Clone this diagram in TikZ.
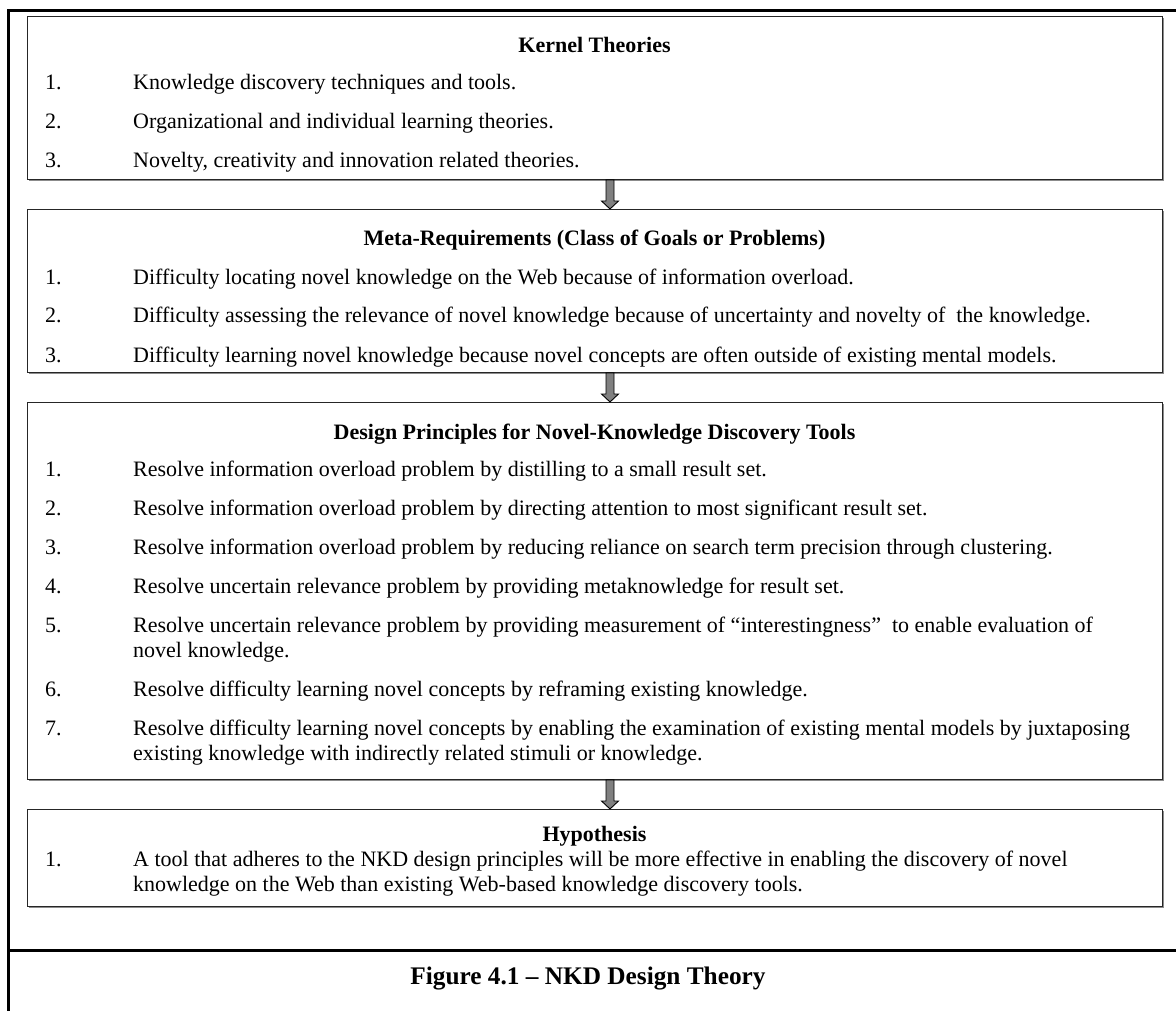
\documentclass[tikz,border=0pt]{standalone}
\usepackage{fontspec}
\setmainfont{Liberation Serif}
\usetikzlibrary{calc,shadows}

\newcommand\bodysize{\fontsize{22}{25}\selectfont}
\newcommand\capsize{\fontsize{25.3}{30}\selectfont}

% thick grey down arrow between two boxes, at x of coordinate (ax)
\newcommand\blockarrow[2]{%
  \path (#1.south -| ax) coordinate (bas) (#2.north -| ax) coordinate (bae);
  \draw[arrowbody] ($(bas)+(-4,0)$) -- ($(bae)+(-4,-8)$) -- ($(bae)+(-8.5,-8)$)
    -- (bae) -- ($(bae)+(8.5,-8)$) -- ($(bae)+(4,-8)$) -- ($(bas)+(4,0)$) -- cycle;
}

\begin{document}
\begin{tikzpicture}[x=1pt,y=-1pt,
  frame/.style={line width=3pt,black},
  panel/.style={draw=black!85,line width=0.9pt,fill=white,inner sep=0pt,
    minimum width=1135pt,anchor=north west,
    drop shadow={shadow xshift=2pt,shadow yshift=-2pt,fill=black!45,opacity=1}},
  arrowbody/.style={draw=black,line width=0.9pt,fill=black!50},
  ttl/.style={font=\bodysize\bfseries,anchor=base,inner sep=0pt},
  num/.style={font=\bodysize,anchor=base west,inner sep=0pt},
  itm/.style={font=\bodysize,anchor=base west,inner sep=0pt},
  figcaption/.style={font=\capsize\bfseries,anchor=base,inner sep=0pt}]
\useasboundingbox (0,0) rectangle (1176,1011);
\clip (0,0) rectangle (1176,1011);

% outer frame
\draw[frame] (1190,11) -- (8,11) -- (8,1030);
\draw[frame] (8,950) -- (1190,950);

% panels
\node[panel,minimum height=163pt] (kt) at (27,16) {};
\node[panel,minimum height=163pt] (mr) at (27,209) {};
\node[panel,minimum height=377pt] (dp) at (27,402) {};
\node[panel,minimum height=97pt]  (hy) at (27,809) {};

% arrows
\coordinate (ax) at (610,0);
\blockarrow{kt}{mr}
\blockarrow{mr}{dp}
\blockarrow{dp}{hy}

% Kernel theories
\node[ttl] (kt0) at (594.5,53) {Kernel Theories};
\node[num] (ktn1) at (45,90) {1.};
\node[itm] (kti1) at (133,90) {Knowledge discovery techniques and tools.};
\node[num] (ktn2) at (45,129) {2.};
\node[itm] (kti2) at (133,129) {Organizational and individual learning theories.};
\node[num] (ktn3) at (45,168) {3.};
\node[itm] (kti3) at (133,168) {Novelty, creativity and innovation related theories.};

% Meta-requirements
\node[ttl] (mr0) at (594.5,246) {Meta-Requirements (Class of Goals or Problems)};
\node[num] (mrn1) at (45,284) {1.};
\node[itm] (mri1) at (133,284) {Difficulty locating novel knowledge on the Web because of information overload.};
\node[num] (mrn2) at (45,323) {2.};
\node[itm] (mri2) at (133,323) {Difficulty assessing the relevance of novel knowledge because of uncertainty and novelty of\ \ the knowledge.};
\node[num] (mrn3) at (45,362) {3.};
\node[itm] (mri3) at (133,362) {Difficulty learning novel knowledge because novel concepts are often outside of existing mental models.};

% Design principles
\node[ttl] (dp0) at (594.5,439) {Design Principles for Novel-Knowledge Discovery Tools};
\node[num] (dpn1) at (45,476) {1.};
\node[itm] (dpi1) at (133,476) {Resolve information overload problem by distilling to a small result set.};
\node[num] (dpn2) at (45,515) {2.};
\node[itm] (dpi2) at (133,515) {Resolve information overload problem by directing attention to most significant result set.};
\node[num] (dpn3) at (45,554) {3.};
\node[itm] (dpi3) at (133,554) {Resolve information overload problem by reducing reliance on search term precision through clustering.};
\node[num] (dpn4) at (45,593) {4.};
\node[itm] (dpi4) at (133,593) {Resolve uncertain relevance problem by providing metaknowledge for result set.};
\node[num] (dpn5) at (45,632) {5.};
\node[itm] (dpi5) at (133,632) {Resolve uncertain relevance problem by providing measurement of “interestingness”\ \ to enable evaluation of};
\node[itm] (dpi5b) at (133,657) {novel knowledge.};
\node[num] (dpn6) at (45,696) {6.};
\node[itm] (dpi6) at (133,696) {Resolve difficulty learning novel concepts by reframing existing knowledge.};
\node[num] (dpn7) at (45,735) {7.};
\node[itm] (dpi7) at (133,735) {Resolve difficulty learning novel concepts by enabling the examination of existing mental models by juxtaposing};
\node[itm] (dpi7b) at (133,760) {existing knowledge with indirectly related stimuli or knowledge.};

% Hypothesis
\node[ttl] (hy0) at (594.5,841) {Hypothesis};
\node[num] (hyn1) at (45,866) {1.};
\node[itm] (hyi1) at (133,866) {A tool that adheres to the NKD design principles will be more effective in enabling the discovery of novel};
\node[itm] (hyi1b) at (133,891) {knowledge on the Web than existing Web-based knowledge discovery tools.};

% caption
\node[figcaption] (fig) at (588,984) {Figure 4.1 – NKD Design Theory};
\end{tikzpicture}
\end{document}
